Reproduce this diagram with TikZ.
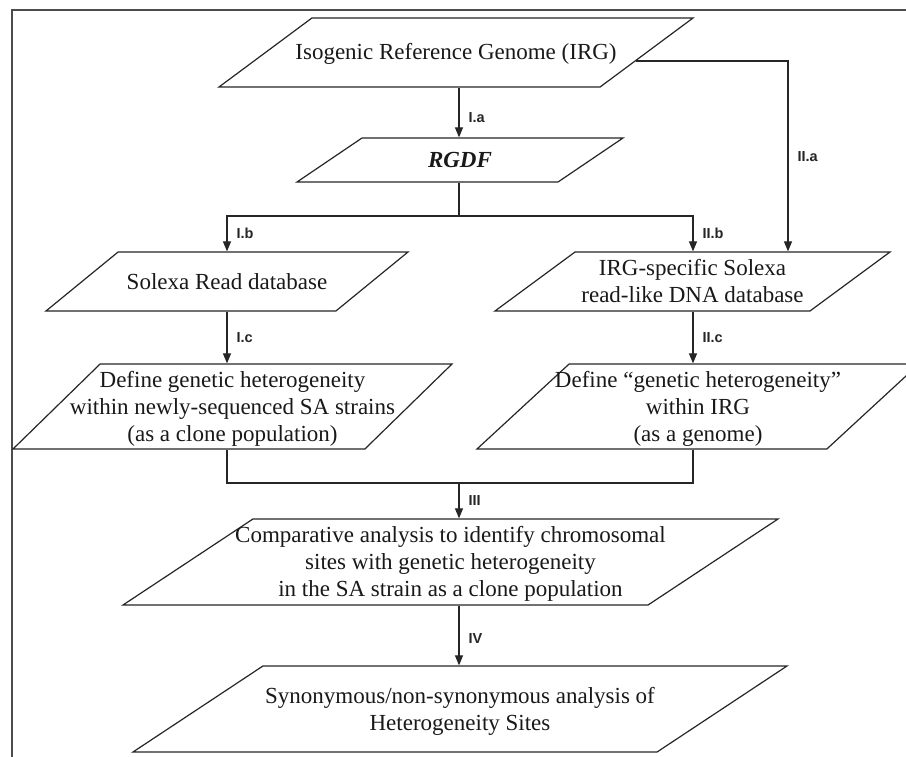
\documentclass[tikz,border=0pt]{standalone}
\usepackage{fontspec}
\setmainfont{Liberation Serif}
\setsansfont{Liberation Sans}
\usepackage{tikz}
\usetikzlibrary{arrows.meta}
\usetikzlibrary{calc}
\usetikzlibrary{positioning}
\usetikzlibrary{shapes.geometric}

\begin{document}
\begin{tikzpicture}
[
	x = 1pt, y = 1pt,
	Data/.style		= {trapezium, trapezium stretches body, trapezium left angle = #1, trapezium right angle = {180-#1}, draw = black!85, line width = 1.2pt, fill = white, font = \fontsize{23}{27}\selectfont, align = center, inner xsep = -32pt, inner ysep = 0pt, text = black!90},
	Flow/.style		= {draw = black!85, line width = 1.2pt},
	Arrow/.style	= {Flow, -{Triangle[length = 10pt, width = 8pt]}},
	Tag/.style		= {font = \sffamily\bfseries\fontsize{14.5}{14.5}\selectfont, right, inner sep = 0pt, xshift = 9pt, text = black!85},
	Frame/.style	= {draw = black!70, line width = 1.2pt},
]

	\useasboundingbox (0,0) rectangle (906,-757);
	\clip (0,0) rectangle (906,-757);

	% outer frame
	\draw [Frame] (12,-757) |- (906,-10);

	% data boxes
	\node (irg)		[Data = 36.6, minimum width = 474pt, minimum height = 69pt, text height = 42pt, text depth = 27pt] at (456,-52.5) {Isogenic Reference Genome (IRG)};
	\node (rgdf)	[Data = 34.1, minimum width = 326pt, minimum height = 44pt, text height = 29.5pt, text depth = 14.5pt, inner xsep = 2pt] at (460,-160) {\textbf{\textit{RGDF}}};
	%
	\node (solexa)	[Data = 39.3, minimum width = 362pt, minimum height = 59pt, text height = 37pt, text depth = 22pt] at (227,-281.5) {Solexa Read database};
	\node (irgsol)	[Data = 36.4, minimum width = 395pt, minimum height = 59pt, text height = 50.5pt, text depth = 8.5pt] at (692.5,-281.5) {IRG-specific Solexa \\ read-like DNA database};
	%
	\node (defl)	[Data = 44.3, minimum width = 439pt, minimum height = 85pt, text height = 77pt, text depth = 8pt] at (232.5,-406.5) {Define genetic heterogeneity \\ within newly-sequenced SA strains \\ (as a clone population)};
	\node (defr)	[Data = 42.7, minimum width = 442pt, minimum height = 85pt, text height = 77pt, text depth = 8pt] at (698,-406.5) {Define “genetic heterogeneity” \\ within IRG \\ (as a genome)};
	%
	\node (comp)	[Data = 33.5, minimum width = 655pt, minimum height = 86pt, text height = 77.5pt, text depth = 8.5pt] at (450.5,-562) {Comparative analysis to identify chromosomal \\ sites with genetic heterogeneity \\ in the SA strain as a clone population};
	\node (syn)		[Data = 33.5, minimum width = 654pt, minimum height = 86pt, text height = 64pt, text depth = 22pt] at (460,-709) {Synonymous/non-synonymous analysis of \\ Heterogeneity Sites};

	% auxiliary nodes for the connectors
	\node (colL)	[coordinate] at (227,0) {};
	\node (colM)	[coordinate] at (459,0) {};
	\node (colR)	[coordinate] at (693,0) {};
	\node (colIIa)	[coordinate] at (788,0) {};
	\node (split)	[coordinate] at (459,-216) {};
	\node (merge)	[coordinate] at (459,-483) {};
	\node (irgout)	[coordinate] at ($(irg.top right corner)!0.62!(irg.bottom right corner)$) {};

	\draw [Arrow] (irg.south -| colM) -- (rgdf.north -| colM) node [Tag, pos = 0.6] {I.a};
	\draw [Arrow] (irgout) -| (irgsol.north -| colIIa) node [Tag, pos = 0.75] {II.a};
	%
	\draw [Flow] (rgdf.south -| colM) -- (split);
	\draw [Arrow] (split) -| (solexa.north -| colL) node [Tag, pos = 0.75] {I.b};
	\draw [Arrow] (split) -| (irgsol.north -| colR) node [Tag, pos = 0.75] {II.b};
	%
	\draw [Arrow] (solexa.south -| colL) -- (defl.north -| colL) node [Tag, midway] {I.c};
	\draw [Arrow] (irgsol.south -| colR) -- (defr.north -| colR) node [Tag, midway] {II.c};
	%
	\draw [Flow] (defl.south -| colL) |- (merge) -| (defr.south -| colR);
	\draw [Arrow] (merge) -- (comp.north -| merge) node [Tag, midway] {III};
	\draw [Arrow] (comp.south -| merge) -- (syn.north -| merge) node [Tag, pos = 0.55] {IV};

\end{tikzpicture}
\end{document}
